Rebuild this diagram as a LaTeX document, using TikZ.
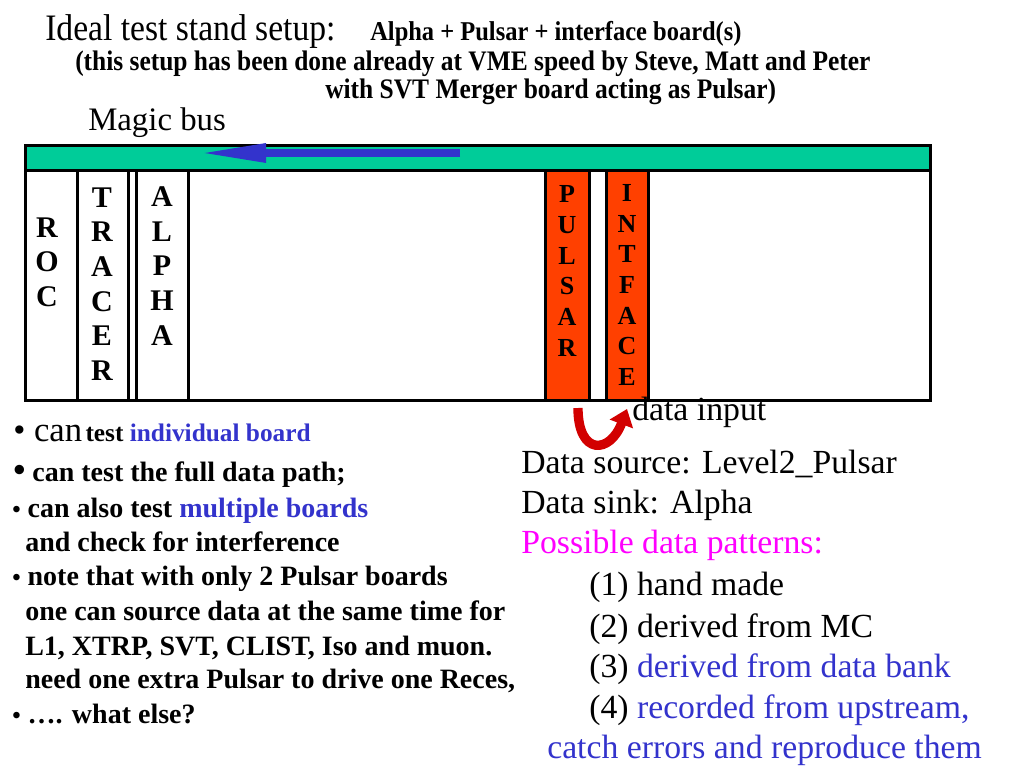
\documentclass[tikz,border=0pt]{standalone}
\usepackage{fontspec}
\setmainfont{Liberation Serif}
\newfontfamily\narrowserif[FakeStretch=0.9]{Liberation Serif}
\usetikzlibrary{arrows.meta}

\definecolor{busgreen}{RGB}{0,204,153}
\definecolor{busblue}{RGB}{51,51,204}
\definecolor{boardred}{RGB}{255,64,0}
\definecolor{linkblue}{RGB}{51,51,204}
\definecolor{turnred}{RGB}{210,0,0}
\definecolor{pink}{RGB}{255,0,255}

\tikzset{
  txt/.style={anchor=base west, inner sep=0pt},
  crate/.style={line width=2.25pt},
  letters/.style={font=\bfseries\fontsize{22.5}{26}\selectfont, align=center, inner sep=0pt},
  smallletters/.style={font=\bfseries\fontsize{19.5}{23}\selectfont, align=center, inner sep=0pt},
  listfont/.style={font=\bfseries\fontsize{21}{24}\selectfont},
  rightfont/.style={font=\fontsize{25.3}{28}\selectfont},
}

\begin{document}
\begin{tikzpicture}[x=0.75pt, y=-0.75pt]
    \useasboundingbox (0,0) rectangle (1024,768);
    % headings
    \node[txt, font=\narrowserif\fontsize{28}{32}\selectfont] (title) at (45,40) {Ideal test stand setup:};
    \node[txt, font=\narrowserif\bfseries\fontsize{20.4}{24}\selectfont] (titlebold) at (370,40) {Alpha + Pulsar + interface board(s)};
    \node[txt, font=\narrowserif\bfseries\fontsize{21.2}{24}\selectfont] (note1) at (75,70) {(this setup has been done already at VME speed by Steve, Matt and Peter};
    \node[txt, font=\narrowserif\bfseries\fontsize{21.2}{24}\selectfont] (note2) at (325,98) {with SVT Merger board acting as Pulsar)};
    \node[txt, font=\fontsize{24.6}{28}\selectfont] (magic) at (88,130) {Magic bus};
    % crate and bus
    \draw[crate, fill=busgreen] (25,145) rectangle (930,170);
    \draw[crate] (25,170) rectangle (930,400);
    \foreach \x in {77,128,136,188}
        \draw[crate] (\x,170) -- (\x,400);
    \draw[crate, fill=boardred] (545,170) rectangle (589,400);
    \draw[crate, fill=boardred] (606,170) rectangle (648,400);
    \coordinate (busR) at (460,153);
    \coordinate (busL) at (198,153);
    \draw[busblue, line width=6pt, -{Triangle[length=51pt, width=13pt]}] (busR) -- (busL);
    % boards
    \node[letters] (roc) at (47,262) {R\\O\\C};
    \node[letters] (tracer) at (102,284) {T\\R\\A\\C\\E\\R};
    \node[letters] (alpha) at (162,266) {A\\L\\P\\H\\A};
    \node[smallletters] (pulsar) at (567,271) {P\\U\\L\\S\\A\\R};
    \node[smallletters] (intface) at (627,285) {I\\N\\T\\F\\A\\C\\E};
    % data input loop
    \coordinate (pulsarfoot) at (578,408);
    \coordinate (intfacefoot) at (627,409);
    \draw[turnred, line width=7pt, -{Triangle[length=12pt, width=18pt]}] (pulsarfoot) .. controls (578,456) and (610,454) .. (intfacefoot);
    \node[txt, rightfont] (datain) at (632,420) {data input};
    % left list
    \node[txt] (l1) at (13,441) {{\fontsize{26}{30}\selectfont\textbullet\ can} {\bfseries\fontsize{19}{22}\selectfont test \textcolor{linkblue}{individual board}}};
    \node[txt, listfont] (l2) at (13,481) {{\fontsize{26}{30}\selectfont\textbullet} can test the full data path;};
    \node[txt, listfont] (l3) at (12,517) {{\fontsize{18}{22}\selectfont\textbullet} can also test \textcolor{linkblue}{multiple boards}};
    \node[txt, listfont] (l4) at (25,551) {and check for interference};
    \node[txt, listfont] (l5) at (12,585) {{\fontsize{18}{22}\selectfont\textbullet} note that with only 2 Pulsar boards};
    \node[txt, listfont] (l6) at (25,620) {one can source data at the same time for};
    \node[txt, listfont] (l7) at (25,655) {L1, XTRP, SVT, CLIST, Iso and muon.};
    \node[txt, listfont] (l8) at (25,688) {need one extra Pulsar to drive one Reces,};
    \node[txt, listfont] (l9) at (12,723) {{\fontsize{18}{22}\selectfont\textbullet} …. what else?};
    % right column
    \node[txt, rightfont] (source) at (521,473) {Data source: Level2\_Pulsar};
    \node[txt, rightfont] (sink) at (521,513) {Data sink: Alpha};
    \node[txt, rightfont, pink] (patterns) at (521,553) {Possible data patterns:};
    \node[txt, rightfont] (p1) at (589,595) {(1) hand made};
    \node[txt, rightfont] (p2) at (589,637) {(2) derived from MC};
    \node[txt, rightfont] (p3) at (589,677) {(3) \textcolor{linkblue}{derived from data bank}};
    \node[txt, rightfont] (p4) at (589,718) {(4) \textcolor{linkblue}{recorded from upstream,}};
    \node[txt, rightfont, linkblue] (p4b) at (547,758) {catch errors and reproduce them};
\end{tikzpicture}
\end{document}
